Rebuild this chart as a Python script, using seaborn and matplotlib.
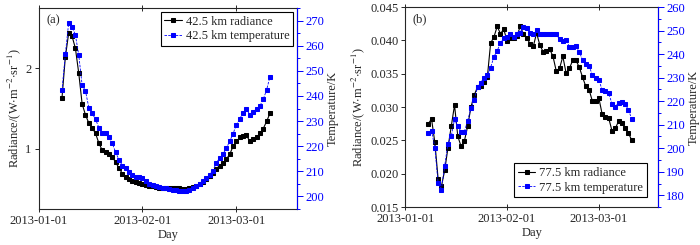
import pandas as pd
import matplotlib
matplotlib.use("Agg")
import matplotlib.pyplot as plt
import matplotlib.dates as mdates
from matplotlib.ticker import MultipleLocator
import seaborn as sns

# daily samples, 2013-01-08 .. 2013-03-11
days = pd.date_range("2013-01-08", "2013-03-11", freq="D")

rad_425 = [
    1.63, 2.14, 2.44, 2.40, 2.25, 1.94, 1.56, 1.42, 1.32, 1.26,
    1.19, 1.07, 0.98, 0.96, 0.94, 0.90, 0.83, 0.76, 0.69, 0.65,
    0.62, 0.60, 0.58, 0.57, 0.555, 0.545, 0.535, 0.53, 0.52, 0.515,
    0.51, 0.51, 0.51, 0.505, 0.51, 0.505, 0.50, 0.50, 0.505, 0.52,
    0.54, 0.56, 0.59, 0.62, 0.66, 0.70, 0.75, 0.79, 0.82, 0.87,
    0.93, 1.03, 1.09, 1.14, 1.16, 1.17, 1.09, 1.12, 1.14, 1.19,
    1.25, 1.34, 1.44,
]
temp_425 = [
    242.2, 256.6, 269.2, 267.6, 264.3, 256.3, 244.4, 242.0, 235.4, 233.1,
    230.7, 227.4, 225.4, 225.2, 223.8, 221.2, 217.5, 214.6, 212.3, 211.2,
    209.9, 208.6, 207.9, 207.7, 207.3, 206.0, 204.9, 204.4, 204.0, 203.6,
    203.3, 203.2, 202.9, 202.6, 202.4, 202.2, 202.1, 202.1, 202.4, 203.2,
    204.0, 205.0, 206.0, 207.2, 208.6, 210.3, 213.3, 215.3, 216.9, 219.2,
    222.0, 225.0, 228.5, 231.0, 233.2, 235.0, 232.3, 233.5, 235.0, 236.0,
    238.7, 242.4, 247.7,
]
rad_775 = [
    0.0275, 0.0282, 0.0247, 0.0192, 0.0181, 0.0205, 0.0239, 0.0271, 0.0303, 0.0256,
    0.0241, 0.0249, 0.0271, 0.0300, 0.0318, 0.0330, 0.0331, 0.0337, 0.0345, 0.0396,
    0.0405, 0.0421, 0.0410, 0.0417, 0.0399, 0.0404, 0.0404, 0.0406, 0.0421, 0.0410,
    0.0404, 0.0395, 0.0391, 0.0411, 0.0393, 0.0383, 0.0384, 0.0387, 0.0376, 0.0354,
    0.0358, 0.0376, 0.0351, 0.0358, 0.0370, 0.0370, 0.0360, 0.0345, 0.0331, 0.0326,
    0.0309, 0.0309, 0.0313, 0.0289, 0.0285, 0.0283, 0.0264, 0.0268, 0.0279, 0.0276,
    0.0268, 0.0261, 0.0250,
]
temp_775 = [
    206.3, 207.4, 200.3, 185.2, 182.4, 192.5, 202.0, 205.1, 212.3, 209.5,
    207.0, 207.0, 211.7, 217.0, 220.5, 225.9, 227.9, 230.0, 231.1, 234.3,
    238.9, 241.5, 244.6, 246.8, 247.2, 248.5, 247.2, 248.4, 249.2, 251.7,
    251.3, 248.9, 248.5, 250.3, 248.5, 248.5, 248.6, 248.6, 248.5, 248.4,
    246.4, 245.8, 246.0, 243.2, 243.0, 243.5, 241.1, 237.5, 235.8, 235.0,
    231.1, 230.0, 229.0, 224.7, 224.4, 223.3, 218.8, 217.6, 219.4, 219.6,
    218.8, 216.2, 212.5,
]

sns.set_style("ticks")
plt.rcParams["font.family"] = ["Liberation Serif", "DejaVu Serif"]
plt.rcParams["mathtext.fontset"] = "stix"
plt.rcParams["font.size"] = 9

BLUE = "#0000ff"
rad_label = r"Radiance/(W$\cdot$m$^{-2}$$\cdot$sr$^{-1}$)"


def draw_panel(ax, rad, temp, alt, tag, rad_lim, rad_step, t_lim, leg_loc, leg_anchor):
    ax2 = ax.twinx()
    sns.lineplot(x=days, y=rad, ax=ax, color="black", marker="s", markersize=3.3,
                 markeredgecolor="black", linewidth=0.8, legend=False)
    sns.lineplot(x=days, y=temp, ax=ax2, color=BLUE, marker="s", markersize=2.8,
                 markeredgecolor=BLUE, linewidth=0.6, linestyle=(0, (3, 1.5)), legend=False)

    ax.set_xlim(pd.Timestamp("2013-01-01"), pd.Timestamp("2013-03-19"))
    ax.xaxis.set_major_locator(mdates.MonthLocator())
    ax.xaxis.set_major_formatter(mdates.DateFormatter("%Y-%m-%d"))
    ax.set_ylim(*rad_lim)
    ax.yaxis.set_major_locator(MultipleLocator(rad_step))
    ax2.set_ylim(*t_lim)
    ax2.yaxis.set_major_locator(MultipleLocator(10))
    ax2.yaxis.set_minor_locator(MultipleLocator(5))

    ax.set_xlabel("Day", fontsize=9, labelpad=1)
    ax.set_ylabel(rad_label, fontsize=9, labelpad=2)
    ax2.set_ylabel("Temperature/K", fontsize=9, labelpad=2)

    ax.tick_params(axis="x", direction="inout", length=5, width=0.7, top=True, labelsize=9, pad=2)
    ax.tick_params(axis="y", direction="out", length=3, width=0.7, labelsize=9, pad=2)
    ax2.tick_params(axis="y", which="both", colors=BLUE, labelsize=9, width=0.7, pad=2)
    ax2.tick_params(axis="y", which="major", length=4)
    ax2.tick_params(axis="y", which="minor", length=2)
    for sp in ax.spines.values():
        sp.set_linewidth(0.8)
        sp.set_visible(True)
    for side in ["left", "top", "bottom"]:
        ax2.spines[side].set_visible(False)
    ax2.spines["right"].set_color(BLUE)
    ax2.spines["right"].set_linewidth(0.8)

    ax.text(0.03, 0.97, tag, transform=ax.transAxes, ha="left", va="top", fontsize=9)

    handles = [ax.get_lines()[0], ax2.get_lines()[0]]
    labels = [f"{alt} km radiance", f"{alt} km temperature"]
    leg = ax2.legend(handles, labels, loc=leg_loc, bbox_to_anchor=leg_anchor, fontsize=9,
                     frameon=True, fancybox=False, edgecolor="black", framealpha=1,
                     handlelength=1.4, handletextpad=0.3, borderpad=0.3, labelspacing=0.2,
                     borderaxespad=0.3)
    leg.get_frame().set_linewidth(0.8)


fig = plt.figure(figsize=(7, 2.45), dpi=100)
ax_a = fig.add_axes([0.055, 0.147, 0.369, 0.82])
ax_b = fig.add_axes([0.579, 0.155, 0.361, 0.816])

draw_panel(ax_a, rad_425, temp_425, "42.5", "(a)", (0.25, 2.75), 1, (195, 275),
           "upper right", (1.0, 1.0))
draw_panel(ax_b, rad_775, temp_775, "77.5", "(b)", (0.015, 0.045), 0.005, (175, 260),
           "lower right", (0.97, 0.03))
ax_b.yaxis.set_major_formatter(matplotlib.ticker.FormatStrFormatter("%.3f"))

fig.savefig("out.png", dpi=100)
